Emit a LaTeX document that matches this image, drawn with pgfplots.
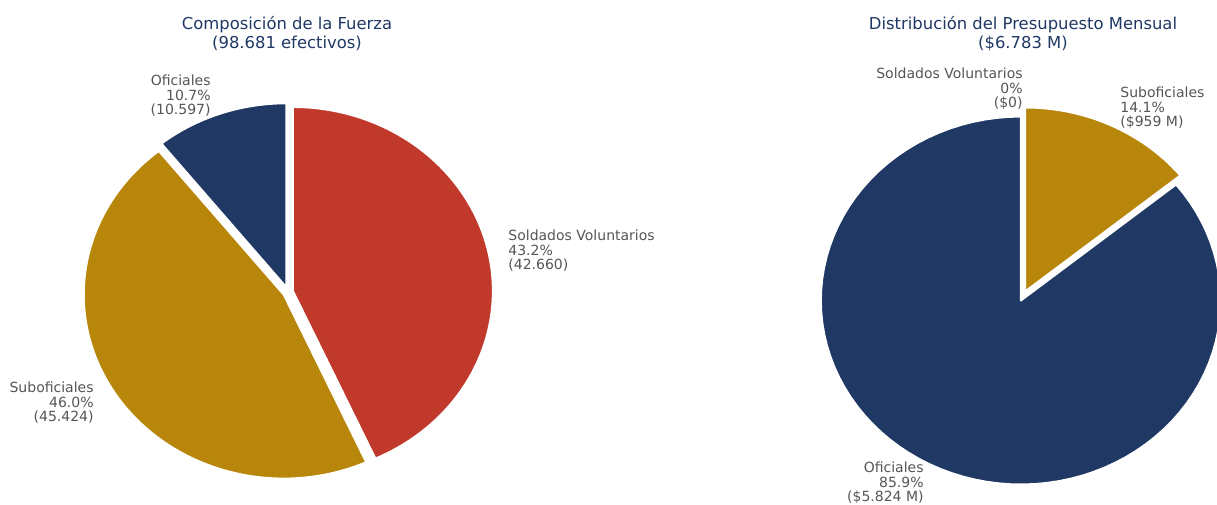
\documentclass[border=0pt]{standalone}
\usepackage{fontspec}
\setmainfont{DejaVu Sans}
\usepackage{pgfplots}
\pgfplotsset{compat=1.18}
\usepgflibrary{fpu}
\definecolor{cBlue}{HTML}{1F3864}
\definecolor{cGold}{HTML}{B8860B}
\definecolor{cRed}{HTML}{C0392B}
\definecolor{cTxt}{HTML}{555555}
\definecolor{cTitle}{HTML}{1F3864}

% data (left: personnel, right: monthly budget in M)
\def\LOf{10597}\def\LSub{45424}\def\LSol{42660}\def\LTot{98681}
\def\ROf{5824}\def\RSub{959}\def\RSol{0}\def\RTot{6783}

\def\rx{200}\def\ry{184}\def\expl{5}

% slice angles from the data
\pgfkeys{/pgf/fpu=true,/pgf/fpu/output format=fixed}
\pgfmathsetmacro\aA{90+360*\LOf/\LTot}
\pgfmathsetmacro\aB{\aA+360*\LSub/\LTot}
\pgfmathsetmacro\bA{90+360*\ROf/\RTot}
\pgfkeys{/pgf/fpu=false}

% \pieslice{cx}{cy}{start}{end}{color}
\newcommand{\pieslice}[5]{%
  \pgfmathsetmacro\pmid{(#3+#4)/2}%
  \pgfmathsetmacro\pox{#1+\expl*cos(\pmid)}%
  \pgfmathsetmacro\poy{#2-\expl*sin(\pmid)}%
  \edef\pdo{\noexpand\addplot[fill=#5, draw=white, line width=1pt, line join=round, domain=#3:#4, samples=90]
    ({\pox+\rx*cos(x)},{\poy-\ry*sin(x)}) -- (axis cs:\pox,\poy) -- cycle;}%
  \pdo}

\begin{document}
\begin{tikzpicture}
\begin{axis}[scale only axis, width=608.5pt, height=252pt,
  xmin=0, xmax=1217, ymin=0, ymax=504, y dir=reverse,
  hide axis, clip=true]
\coordinate (SW) at (rel axis cs:0,0);
\coordinate (NE) at (rel axis cs:1,1);
% left pie
\pieslice{288}{292}{90}{\aA}{cBlue}
\pieslice{288}{292}{\aA}{\aB}{cGold}
\pieslice{288}{292}{\aB}{450}{cRed}
% right pie
\pieslice{1023}{296}{90}{\bA}{cBlue}
\pieslice{1023}{296}{\bA}{450}{cGold}

\tikzset{lab/.style={font=\fontsize{7}{7.25}\selectfont, text=cTxt, inner sep=0pt},
         ttl/.style={font=\fontsize{8.2}{9.5}\selectfont, text=cTitle, inner sep=0pt, align=center}}
\node[ttl] at (axis cs:287,34) {Composición de la Fuerza\\(98.681 efectivos)};
\node[ttl] at (axis cs:1023,34) {Distribución del Presupuesto Mensual\\(\$6.783 M)};

\node[lab, anchor=east, align=right] at (axis cs:211,96) {Oficiales\\10.7\%\\(10.597)};
\node[lab, anchor=east, align=right] at (axis cs:94,403) {Suboficiales\\46.0\%\\(45.424)};
\node[lab, anchor=west, align=left] at (axis cs:508,251) {Soldados Voluntarios\\43.2\%\\(42.660)};

\node[lab, anchor=east, align=right] at (axis cs:1023,89) {Soldados Voluntarios\\0\%\\(\$0)};
\node[lab, anchor=west, align=left] at (axis cs:1120,108) {Suboficiales\\14.1\%\\(\$959 M)};
\node[lab, anchor=east, align=right] at (axis cs:924,483) {Oficiales\\85.9\%\\(\$5.824 M)};
\end{axis}
\pgfresetboundingbox
\path[use as bounding box] (SW) rectangle (NE);
\end{tikzpicture}
\end{document}
